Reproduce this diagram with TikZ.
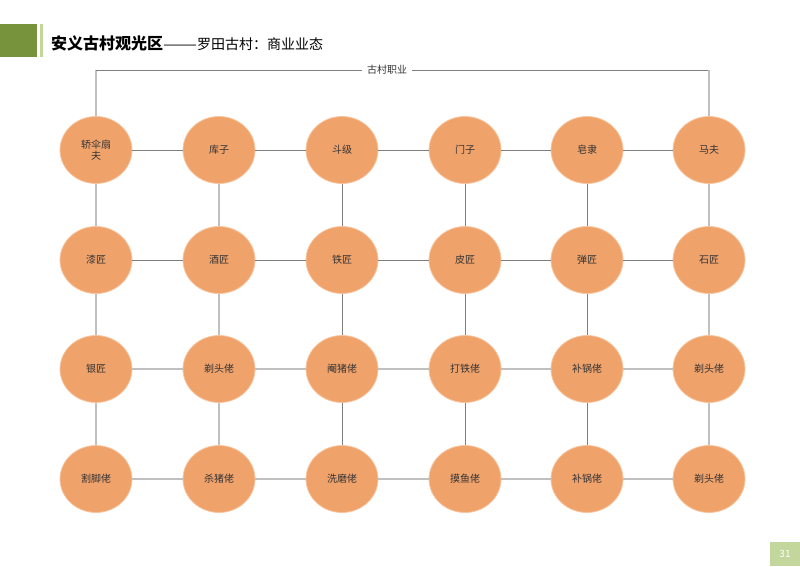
\documentclass[tikz,border=0pt]{standalone}
\usepackage{fontspec}
\setmainfont{Noto Sans CJK SC}
\usetikzlibrary{shapes.geometric}
\definecolor{jobcol}{HTML}{F0A26B}
\definecolor{ringcol}{HTML}{F7C6A0}
\definecolor{darkln}{HTML}{7F7F7F}
\definecolor{lightln}{HTML}{C0C0C0}
\definecolor{olive}{HTML}{77933C}
\definecolor{pale}{HTML}{C3D69B}
\definecolor{txt}{HTML}{333333}
\tikzset{every picture/.style={x=1pt,y=-1pt}}
\tikzset{job/.style={ellipse,fill=jobcol,draw=ringcol,line width=0.8pt,minimum width=72,minimum height=67,inner sep=1pt,text=txt,font=\fontsize{10}{11}\selectfont,align=center}}
\tikzset{dk/.style={darkln,line width=0.8pt}}
\tikzset{lt/.style={lightln,line width=1.2pt}}

\begin{document}
\begin{tikzpicture}
\useasboundingbox (0,0) rectangle (800,566);
\fill [olive] (0,24) rectangle (37,57);
\fill [pale] (40,24) rectangle (43,57);
\node [anchor=west,inner sep=0pt] (title) at (51,43) {\fontsize{16}{18}\selectfont\bfseries 安义古村观光区\fontsize{14}{18}\selectfont\mdseries\scalebox{1.45}[1]{——}罗田古村：商业业态};
\fill [pale] (770,542) rectangle (800,566);
\node [white,font=\fontsize{10}{11}\selectfont] (page) at (785,554) {31};

\node [job] (n11) at (96,150) {轿伞扇\\夫};
\node [job] (n12) at (219,150) {库子};
\node [job] (n13) at (342,150) {斗级};
\node [job] (n14) at (465,150) {门子};
\node [job] (n15) at (587,150) {皂隶};
\node [job] (n16) at (709,150) {马夫};

\node [job] (n21) at (96,260) {漆匠};
\node [job] (n22) at (219,260) {酒匠};
\node [job] (n23) at (342,260) {铁匠};
\node [job] (n24) at (465,260) {皮匠};
\node [job] (n25) at (587,260) {弹匠};
\node [job] (n26) at (709,260) {石匠};

\node [job] (n31) at (96,369) {银匠};
\node [job] (n32) at (219,369) {剃头佬};
\node [job] (n33) at (342,369) {阉猪佬};
\node [job] (n34) at (465,369) {打铁佬};
\node [job] (n35) at (587,369) {补锅佬};
\node [job] (n36) at (709,369) {剃头佬};

\node [job] (n41) at (96,479) {割脚佬};
\node [job] (n42) at (219,479) {杀猪佬};
\node [job] (n43) at (342,479) {洗磨佬};
\node [job] (n44) at (465,479) {摸鱼佬};
\node [job] (n45) at (587,479) {补锅佬};
\node [job] (n46) at (709,479) {剃头佬};

\coordinate (tl) at (96,70);
\coordinate (tr) at (709,70);
\node [text=txt,fill=white,inner xsep=5pt,font=\fontsize{10}{11}\selectfont] (head) at (387,70) {古村职业};
\draw [lt] (n11) -- (tl);
\draw [dk] (tl) -- (head);
\draw [dk] (head) -- (tr);
\draw [lt] (tr) -- (n16);

\draw [dk] (n11) -- (n12);
\draw [dk] (n12) -- (n13);
\draw [dk] (n13) -- (n14);
\draw [dk] (n14) -- (n15);
\draw [dk] (n15) -- (n16);

\draw [dk] (n21) -- (n22);
\draw [dk] (n22) -- (n23);
\draw [dk] (n23) -- (n24);
\draw [dk] (n24) -- (n25);
\draw [dk] (n25) -- (n26);

\draw [lt] (n31) -- (n32);
\draw [lt] (n32) -- (n33);
\draw [lt] (n33) -- (n34);
\draw [lt] (n34) -- (n35);
\draw [lt] (n35) -- (n36);

\draw [lt] (n41) -- (n42);
\draw [lt] (n42) -- (n43);
\draw [lt] (n43) -- (n44);
\draw [lt] (n44) -- (n45);
\draw [lt] (n45) -- (n46);

\draw [lt] (n11) -- (n21);
\draw [lt] (n21) -- (n31);
\draw [lt] (n31) -- (n41);

\draw [lt] (n12) -- (n22);
\draw [lt] (n22) -- (n32);
\draw [lt] (n32) -- (n42);

\draw [dk] (n13) -- (n23);
\draw [dk] (n23) -- (n33);
\draw [dk] (n33) -- (n43);

\draw [dk] (n14) -- (n24);
\draw [dk] (n24) -- (n34);
\draw [dk] (n34) -- (n44);

\draw [dk] (n15) -- (n25);
\draw [dk] (n25) -- (n35);
\draw [dk] (n35) -- (n45);

\draw [lt] (n16) -- (n26);
\draw [lt] (n26) -- (n36);
\draw [lt] (n36) -- (n46);
\end{tikzpicture}
\end{document}
